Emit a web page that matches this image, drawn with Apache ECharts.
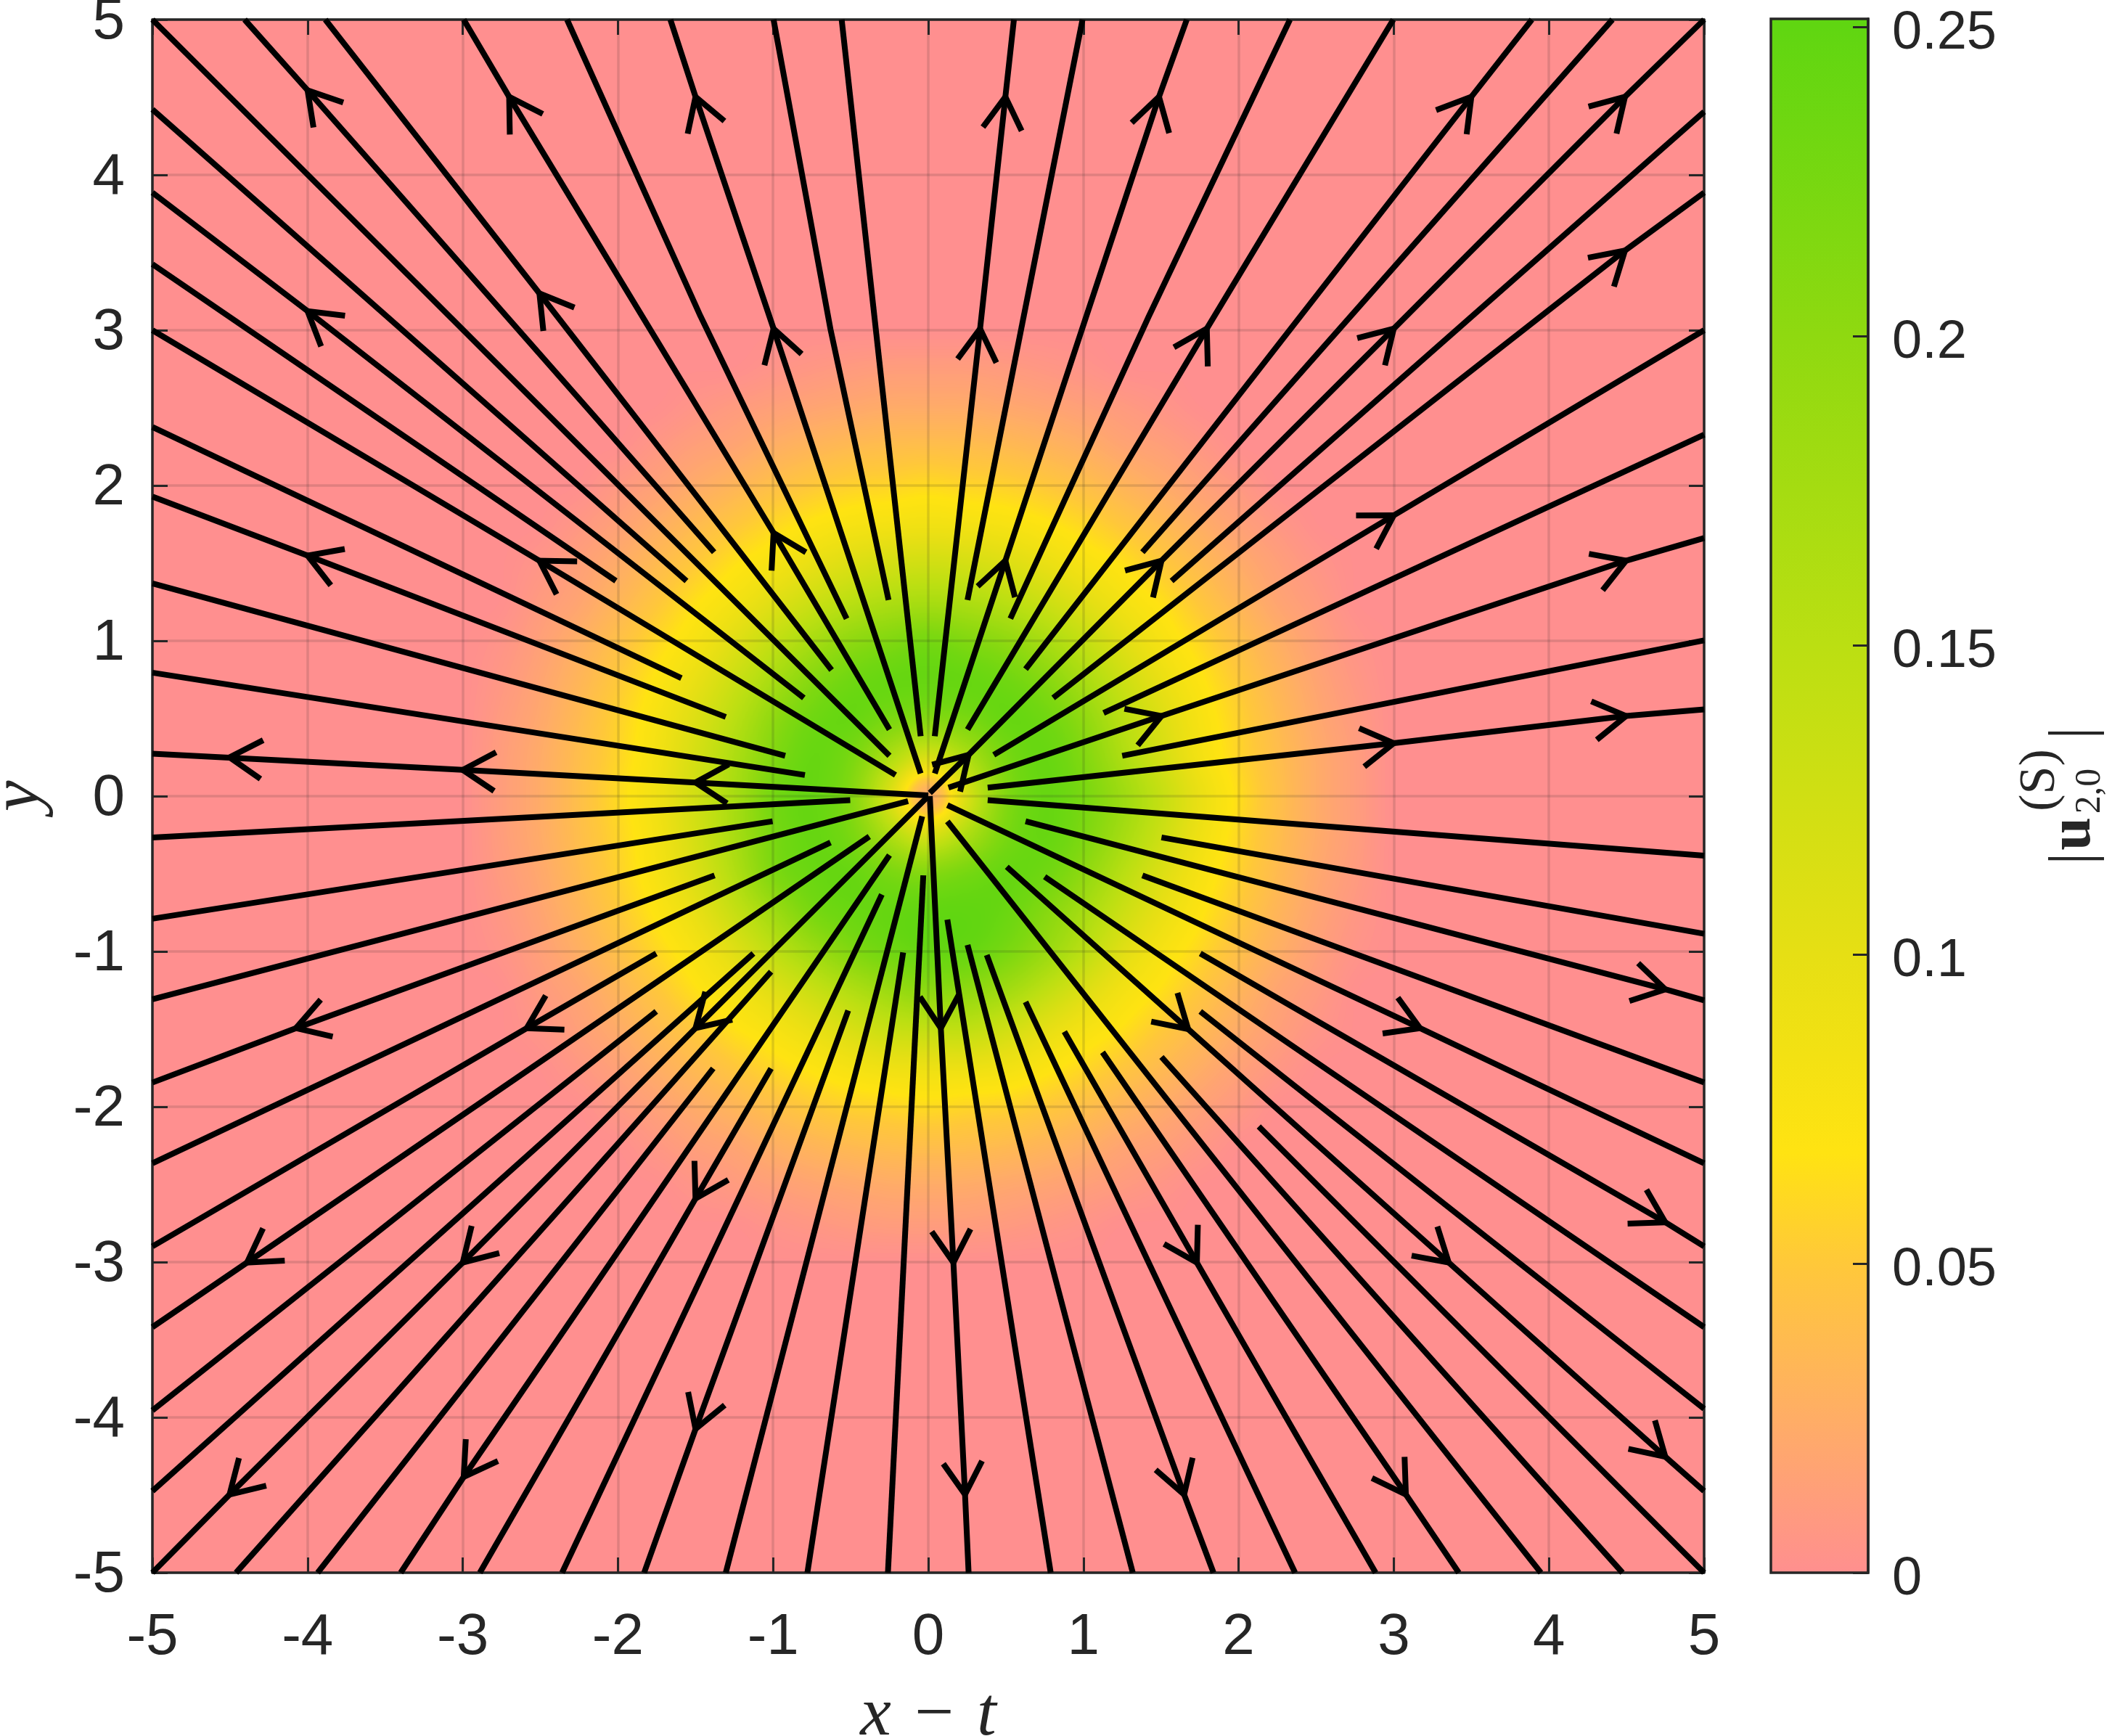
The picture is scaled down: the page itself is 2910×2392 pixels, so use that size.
<!DOCTYPE html>
<html lang="en">
<head>
<meta charset="utf-8">
<script src="https://cdn.jsdelivr.net/npm/echarts@6/dist/echarts.min.js"></script>
<style>html,body{margin:0;background:#fff}#container{width:2910px;height:2392px}</style>
</head>
<body>
<div id="container"></div>
<script>
// axis ticks
var axisMin = -5, axisMax = 5, axisStep = 1;
var colorbarMax = 0.2513;
var colorbarTicks = [0, 0.05, 0.1, 0.15, 0.2, 0.25];

// colormap
var colorValues = [0, 0.025, 0.05, 0.068, 0.1, 0.15, 0.2, 0.25, 0.2513];
var colorHex = ['#ff8f8f', '#ffad66', '#ffc83a', '#ffe312', '#e6df14', '#bbdf12', '#8fd910', '#60d611', '#5fd611'];

// |u| read on a 0.25 lattice, x = -3..3 along a row, y = 3..-3 down the rows (zero outside)
var fieldStep = 0.25, fieldStart = -3;
var fieldRows = [
[0,0,0,0,0,0,0,0,0,0,0,0,0,0,0,0,0,0,0,0,0,0,0,0,0],
[0,0,0,0,0,0,0,0,.004,.007,.01,.012,.012,.012,.01,.007,.004,0,0,0,0,0,0,0,0],
[0,0,0,0,0,0,.005,.01,.014,.018,.021,.024,.024,.024,.021,.018,.014,.01,.005,0,0,0,0,0,0],
[0,0,0,0,0,.007,.014,.018,.027,.033,.037,.04,.041,.04,.037,.033,.027,.018,.014,.007,0,0,0,0,0],
[0,0,0,0,.008,.015,.024,.033,.042,.05,.056,.058,.062,.058,.056,.05,.042,.033,.024,.015,.008,0,0,0,0],
[0,0,0,.007,.015,.026,.037,.048,.06,.07,.078,.082,.085,.082,.078,.07,.06,.048,.037,.026,.015,.007,0,0,0],
[0,0,.005,.014,.024,.037,.05,.066,.078,.095,.11,.12,.125,.12,.11,.095,.078,.066,.05,.037,.024,.014,.005,0,0],
[0,0,.01,.018,.033,.048,.066,.082,.105,.13,.15,.165,.17,.165,.15,.13,.105,.082,.066,.048,.033,.018,.01,0,0],
[0,.004,.014,.027,.042,.06,.078,.105,.14,.17,.2,.215,.23,.215,.2,.17,.14,.105,.078,.06,.042,.027,.014,.004,0],
[0,.007,.018,.033,.05,.07,.095,.13,.17,.21,.235,.245,.245,.245,.235,.21,.17,.13,.095,.07,.05,.033,.018,.007,0],
[0,.01,.021,.037,.056,.078,.11,.15,.2,.235,.245,.225,.215,.225,.245,.235,.2,.15,.11,.078,.056,.037,.021,.01,0],
[0,.012,.024,.04,.058,.082,.12,.165,.215,.245,.225,.165,.11,.165,.225,.245,.215,.165,.12,.082,.058,.04,.024,.012,0],
[0,.012,.024,.041,.062,.085,.125,.17,.23,.245,.215,.11,0,.11,.215,.245,.225,.185,.14,.095,.064,.042,.024,.012,0],
[0,.012,.024,.04,.058,.082,.12,.17,.225,.245,.225,.165,.11,.165,.225,.245,.22,.175,.13,.088,.06,.04,.024,.012,0],
[0,.01,.021,.037,.056,.078,.112,.16,.22,.24,.245,.225,.215,.23,.245,.235,.2,.152,.11,.078,.056,.037,.021,.01,0],
[0,.007,.018,.033,.05,.07,.095,.135,.18,.225,.24,.245,.25,.25,.24,.21,.172,.13,.095,.07,.05,.033,.018,.007,0],
[0,.004,.014,.027,.042,.06,.078,.105,.145,.18,.215,.235,.245,.245,.225,.19,.15,.105,.078,.06,.042,.027,.014,.004,0],
[0,0,.01,.018,.033,.048,.066,.082,.105,.132,.16,.185,.205,.2,.18,.145,.11,.082,.066,.048,.033,.018,.01,0,0],
[0,0,.005,.014,.024,.037,.05,.066,.078,.095,.115,.135,.14,.145,.125,.1,.08,.066,.05,.037,.024,.014,.005,0,0],
[0,0,0,.007,.015,.026,.037,.048,.06,.07,.08,.088,.09,.09,.085,.072,.06,.048,.037,.026,.015,.007,0,0,0],
[0,0,0,0,.008,.015,.024,.033,.042,.05,.056,.058,.062,.058,.056,.05,.042,.033,.024,.015,.008,0,0,0,0],
[0,0,0,0,0,.007,.014,.018,.027,.033,.037,.04,.041,.04,.037,.033,.027,.018,.014,.007,0,0,0,0,0],
[0,0,0,0,0,0,.005,.01,.014,.018,.021,.024,.024,.024,.021,.018,.014,.01,.005,0,0,0,0,0,0],
[0,0,0,0,0,0,0,0,.004,.007,.01,.012,.012,.012,.01,.007,.004,0,0,0,0,0,0,0,0],
[0,0,0,0,0,0,0,0,0,0,0,0,0,0,0,0,0,0,0,0,0,0,0,0,0]
];

// streamlines, each from its outer end to its inner end
var streamUpperLeft = [
[[-5,.273],[-3,.169],[-1.5,.088],[0,.005]],
[[-5,.795],[-.795,.136]],
[[-5,1.37],[-.922,.26]],
[[-5,1.929],[-4,1.549],[-1.305,.51]],
[[-5,2.377],[-1.591,.76]],
[[-5,3],[-2.506,1.516],[-.211,.136]],
[[-5,3.425],[-2.013,1.386]],
[[-5,3.886],[-4,3.123],[-.802,.633]],
[[-5,4.422],[-1.558,1.386]],
[[-5,5],[-.25,.26]],
[[-4.406,5],[-4,4.545],[-1.38,1.571]],
[[-3.886,5],[-2.506,3.237],[-.623,.812]],
[[-2.994,5],[-2.701,4.503],[-.997,1.695],[-.25,.429]],
[[-2.328,5],[-1.468,3.091],[-.526,1.143]],
[[-1.662,5],[-1.5,4.503],[-.997,3.01],[-.049,.146]],
[[-.997,5],[-.63,3.006],[-.256,1.263]],
[[-.558,5],[-.049,.386]]
];
var streamUpperRight = [
[[.552,5],[.497,4.503],[.334,3.01],[.042,.386]],
[[.994,5],[.253,1.263]],
[[1.666,5],[1.487,4.503],[.497,1.516],[.042,.146]],
[[2.331,5],[1.422,3.091],[.529,1.143]],
[[2.997,5],[1.795,3.01],[.253,.429]],
[[3.89,5],[3.5,4.503],[.627,.818]],
[[4.409,5],[1.38,1.571]],
[[5,5],[4.49,4.503],[3,3.01],[1.503,1.516],[.26,.266],[.01,.02]],
[[5,4.406],[1.568,1.386]],
[[5,3.886],[4.49,3.513],[.805,.633]],
[[5,3],[3,1.808],[.422,.266]],
[[5,2.328],[1.13,.536]],
[[5,1.662],[4.497,1.516],[1.503,.516],[.13,.055]],
[[5,1.003],[1.25,.26]],
[[5,.558],[4.497,.516],[3,.341],[.383,.055]]
];
var streamLowerLeft = [
[[-5,-.266],[-.503,-.026]],
[[-5,-.789],[-1.003,-.162]],
[[-5,-1.308],[-.13,-.032]],
[[-5,-1.844],[-4.075,-1.494],[-1.377,-.51]],
[[-5,-2.364],[-.63,-.299]],
[[-5,-2.899],[-2.588,-1.494],[-1.753,-1.013]],
[[-5,-3.419],[-4.39,-3.003],[-.38,-.26]],
[[-5,-3.955],[-1.753,-1.386]],
[[-5,-4.474],[-1.127,-1.013]],
[[-5,-5],[-4.503,-4.497],[-3,-3.003],[-1.5,-1.494],[0,0]],
[[-4.461,-5],[-1.013,-1.13]],
[[-3.935,-5],[-1.386,-1.753]],
[[-3.4,-5],[-2.994,-4.383],[-.25,-.38]],
[[-2.89,-5],[-1.5,-2.591],[-1.013,-1.753]],
[[-2.36,-5],[-.299,-.633]],
[[-1.831,-5],[-1.5,-4.075],[-.516,-1.38]],
[[-1.305,-5],[-.039,-.13]],
[[-.779,-5],[-.162,-1.006]],
[[-.26,-5],[-.032,-.51]]
];
var streamLowerRight = [
[[5,-.383],[.383,-.026]],
[[5,-.886],[1.503,-.266]],
[[5,-1.315],[4.75,-1.244],[.627,-.162]],
[[5,-1.844],[1.38,-.51]],
[[5,-2.364],[3.169,-1.494],[.123,-.058]],
[[5,-2.899],[4.75,-2.744],[1.753,-1.013]],
[[5,-3.419],[.75,-.519]],
[[5,-3.945],[1.753,-1.386]],
[[5,-4.474],[4.75,-4.253],[3.354,-3.003],[1.675,-1.5],[.506,-.455]],
[[5,-5],[2.13,-2.127]],
[[4.474,-5],[1.503,-1.679]],
[[3.948,-5],[.123,-.162]],
[[3.419,-5],[3.078,-4.497],[1.123,-1.649]],
[[2.883,-5],[1.731,-3.003],[.877,-1.516]],
[[2.364,-5],[.627,-1.325]],
[[1.838,-5],[1.649,-4.497],[.377,-1.023]],
[[1.318,-5],[.253,-.958]],
[[.789,-5],[.123,-.795]],
[[.26,-5],[.237,-4.497],[.162,-3.003],[.081,-1.494],[.01,0]]
];

// arrowheads: x, y, heading in degrees
var arrowHeads = [
[-4,4.545,130],[-2.701,4.503,122],[-1.5,4.503,109],[-4,3.123,142],[-2.506,3.237,127],[-.997,3.01,107],
[-4,1.549,159],[-2.506,1.516,148],[-.997,1.695,118],[-4.503,.25,176],[-3,.169,177],[-1.5,.088,177.5],
[.497,4.503,84.5],[.334,3.01,84.5],[1.487,4.503,74.6],[.497,1.516,73.7],[1.795,3.01,60.5],[3.5,4.503,51.8],
[4.49,4.503,46],[3,3.01,45.5],[1.503,1.516,46],[.26,.266,46],[4.49,3.513,42],[3,1.808,31.2],
[4.497,1.516,20.6],[1.503,.516,20],[4.497,.516,8.2],[3,.341,7.6],
[-4.075,-1.494,198],[-2.588,-1.494,208.7],[-1.5,-1.494,224],[-4.39,-3.003,214],[-3,-3.003,225.4],
[-1.5,-2.591,240.6],[-4.503,-4.497,224.5],[-2.994,-4.383,235.8],[-1.5,-4.075,250.3],
[4.75,-1.244,-13],[3.169,-1.494,-23],[4.75,-2.744,-29],[1.675,-1.5,-42.5],[3.354,-3.003,-41.5],[4.75,-4.253,-43],
[1.731,-3.003,-60.5],[3.078,-4.497,-57],[1.649,-4.497,-72],[.237,-4.497,-85.8],[.162,-3.003,-86],[.081,-1.494,-87.3]
];

var streamlines = streamUpperLeft.concat(streamUpperRight, streamLowerLeft, streamLowerRight);

function hexRgb(h) {
    return [parseInt(h.substr(1, 2), 16), parseInt(h.substr(3, 2), 16), parseInt(h.substr(5, 2), 16)];
}
function colormap(v) {
    for (var i = 1; i < colorValues.length; i++) {
        if (v <= colorValues[i]) {
            var t = (v - colorValues[i - 1]) / (colorValues[i] - colorValues[i - 1]);
            var a = hexRgb(colorHex[i - 1]), b = hexRgb(colorHex[i]);
            return [a[0] + (b[0] - a[0]) * t, a[1] + (b[1] - a[1]) * t, a[2] + (b[2] - a[2]) * t];
        }
    }
    return hexRgb(colorHex[colorHex.length - 1]);
}

// lattice values go in a tiny canvas, the browser smooths it up, then the colormap is applied
function fieldImage(size) {
    var n = fieldRows.length;
    var small = document.createElement('canvas');
    small.width = small.height = n;
    var sctx = small.getContext('2d');
    var sdata = sctx.createImageData(n, n);
    for (var r = 0; r < n; r++) {
        for (var c = 0; c < n; c++) {
            var g = Math.round(fieldRows[r][c] / colorbarMax * 255), k = (r * n + c) * 4;
            sdata.data[k] = sdata.data[k + 1] = sdata.data[k + 2] = g;
            sdata.data[k + 3] = 255;
        }
    }
    sctx.putImageData(sdata, 0, 0);
    var big = document.createElement('canvas');
    big.width = big.height = size;
    var ctx = big.getContext('2d', {willReadFrequently: true});
    ctx.imageSmoothingEnabled = true;
    ctx.imageSmoothingQuality = 'high';
    ctx.drawImage(small, 0, 0, size, size);
    var lut = [];
    for (var i = 0; i < 256; i++) lut.push(colormap(i / 255 * colorbarMax));
    var img = ctx.getImageData(0, 0, size, size);
    for (var p = 0; p < img.data.length; p += 4) {
        var col = lut[img.data[p]];
        img.data[p] = col[0]; img.data[p + 1] = col[1]; img.data[p + 2] = col[2]; img.data[p + 3] = 255;
    }
    ctx.putImageData(img, 0, 0);
    return big;
}

var fieldCanvas = fieldImage(1336);
var fieldEnd = fieldStart + (fieldRows.length - 1) * fieldStep;

var inkColor = '#262626';
var tickFont = 'Liberation Sans';
var mathFont = 'Liberation Serif';

function mainAxis(position, labelled) {
    return {
        type: 'value', gridIndex: 0, position: position,
        min: axisMin, max: axisMax, interval: axisStep, z: 3,
        axisLine: {show: true, onZero: false, lineStyle: {color: inkColor, width: 3.5}},
        axisTick: {show: true, inside: true, length: 21, lineStyle: {color: inkColor, width: 3}},
        axisLabel: {show: labelled, color: inkColor, fontFamily: tickFont, fontSize: 80, margin: 38, showMinLabel: true, showMaxLabel: true, hideOverlap: false},
        splitLine: {show: labelled, lineStyle: {color: 'rgba(38,38,38,0.15)', width: 3.5}}
    };
}

var xBottom = mainAxis('bottom', true);
xBottom.axisLabel.margin = 50;
xBottom.name = '{i|x}{n|\u2212}{i|t}';
xBottom.nameLocation = 'middle';
xBottom.nameGap = 150;
xBottom.nameTextStyle = {
    rich: {
        i: {fontFamily: mathFont, fontStyle: 'italic', fontSize: 96, color: inkColor},
        n: {fontFamily: mathFont, fontSize: 96, color: inkColor, padding: [0, 32, 0, 32]}
    }
};
var yLeft = mainAxis('left', true);
// top-aligned with a short line box, which puts the digits a little under the tick
yLeft.axisLabel.verticalAlign = 'top';
yLeft.axisLabel.lineHeight = 8;
yLeft.name = 'y';
yLeft.nameLocation = 'middle';
yLeft.nameGap = 134;
yLeft.nameRotate = 90;
yLeft.nameTextStyle = {fontFamily: mathFont, fontStyle: 'italic', fontSize: 96, color: inkColor};

var option = {
    animation: false,
    backgroundColor: '#fff',
    grid: [
        {left: 210, top: 27, width: 2138, height: 2140, show: true, backgroundColor: colorHex[0], borderWidth: 0, outerBoundsMode: 'none'},
        {left: 2440, top: 26, width: 134, height: 2141, show: false, outerBoundsMode: 'none'}
    ],
    xAxis: [
        xBottom,
        mainAxis('top', false),
        {type: 'value', gridIndex: 1, min: 0, max: 1, show: false}
    ],
    yAxis: [
        yLeft,
        mainAxis('right', false),
        {
            type: 'value', gridIndex: 1, position: 'right', min: 0, max: colorbarMax, z: 4,
            axisLine: {show: true, onZero: false, lineStyle: {color: inkColor, width: 3.5}},
            axisTick: {show: true, inside: true, length: 21, customValues: colorbarTicks, lineStyle: {color: inkColor, width: 3}},
            axisLabel: {color: inkColor, fontFamily: tickFont, fontSize: 74, margin: 33, verticalAlign: 'top', lineHeight: 20, customValues: colorbarTicks},
            splitLine: {show: false}
        }
    ],
    series: [
        {
            // smoothed field
            type: 'custom', xAxisIndex: 0, yAxisIndex: 0, z: 1, silent: true, clip: true,
            data: [[fieldStart, fieldEnd]],
            renderItem: function (params, api) {
                var half = fieldStep / 2;
                var a = api.coord([fieldStart - half, fieldEnd + half]);
                var b = api.coord([fieldEnd + half, fieldStart - half]);
                return {type: 'image', style: {image: fieldCanvas, x: a[0], y: a[1], width: b[0] - a[0], height: b[1] - a[1]}};
            }
        },
        {
            type: 'lines', coordinateSystem: 'cartesian2d', xAxisIndex: 0, yAxisIndex: 0, polyline: true, z: 5, silent: true, clip: true,
            lineStyle: {color: '#000', width: 8, opacity: 1, cap: 'butt', join: 'round'},
            data: streamlines.map(function (pts) { return {coords: pts}; })
        },
        {
            type: 'custom', xAxisIndex: 0, yAxisIndex: 0, z: 6, silent: true, clip: true,
            data: arrowHeads,
            encode: {x: 0, y: 1},
            renderItem: function (params, api) {
                var tip = api.coord([api.value(0), api.value(1)]);
                var h = api.value(2) * Math.PI / 180, spread = 31 * Math.PI / 180, arm = 52;
                var a1 = h + Math.PI - spread, a2 = h + Math.PI + spread;
                return {
                    type: 'polyline',
                    shape: {points: [
                        [tip[0] + arm * Math.cos(a1), tip[1] - arm * Math.sin(a1)],
                        tip,
                        [tip[0] + arm * Math.cos(a2), tip[1] - arm * Math.sin(a2)]
                    ]},
                    style: {stroke: '#000', lineWidth: 8, fill: null, lineJoin: 'miter'}
                };
            }
        },
        {
            // colorbar
            type: 'custom', xAxisIndex: 2, yAxisIndex: 2, z: 1, silent: true,
            data: [[0, colorbarMax]],
            renderItem: function (params, api) {
                var a = api.coord([0, colorbarMax]), b = api.coord([1, 0]);
                return {
                    type: 'rect',
                    shape: {x: a[0], y: a[1], width: b[0] - a[0], height: b[1] - a[1]},
                    style: {
                        stroke: inkColor, lineWidth: 3.5,
                        fill: new echarts.graphic.LinearGradient(0, 1, 0, 0, colorValues.map(function (v, i) {
                            return {offset: v / colorbarMax, color: colorHex[i]};
                        }))
                    }
                };
            }
        }
    ],
    graphic: [{
        type: 'group', x: 2860, y: 1097, rotation: Math.PI / 2, silent: true,
        children: [
            {type: 'text', x: -86, y: -1, style: {text: '|', font: '84px "Liberation Serif"', fill: inkColor, align: 'center', verticalAlign: 'middle'}},
            {type: 'text', x: -52, y: -2, style: {text: 'u', font: 'bold 82px "Liberation Serif"', fill: inkColor, align: 'center', verticalAlign: 'middle'}},
            {type: 'text', x: 7, y: 20, style: {text: '2,0', font: '50px "Liberation Serif"', fill: inkColor, align: 'center', verticalAlign: 'middle'}},
            {type: 'text', x: 22, y: -48, style: {text: '(S)', font: '70px "Liberation Serif"', fill: inkColor, align: 'center', verticalAlign: 'middle'}},
            {type: 'text', x: 87, y: -1, style: {text: '|', font: '84px "Liberation Serif"', fill: inkColor, align: 'center', verticalAlign: 'middle'}}
        ]
    }]
};

var myChart = echarts.init(document.getElementById('container'), null, {renderer: 'canvas'});
myChart.setOption(option);
</script>
</body>
</html>
